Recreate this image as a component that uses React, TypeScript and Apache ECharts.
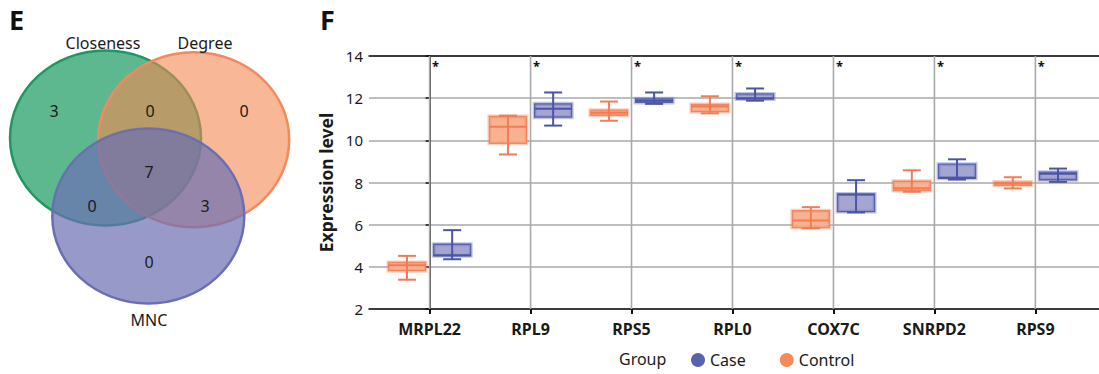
import React, { useEffect, useRef } from "react";
import * as echarts from "echarts";

// ---------- Data ----------
const categories = ["MRPL22", "RPL9", "RPS5", "RPL0", "COX7C", "SNRPD2", "RPS9"];
// each row: [min, q1, median, q3, max]
const controlValues = [
  [3.39, 3.82, 4.07, 4.21, 4.52],
  [9.33, 9.86, 10.64, 11.13, 11.17],
  [10.93, 11.19, 11.31, 11.43, 11.84],
  [11.28, 11.36, 11.6, 11.7, 12.09],
  [5.83, 5.86, 6.2, 6.66, 6.83],
  [7.56, 7.62, 7.73, 8.06, 8.58],
  [7.72, 7.87, 7.96, 8.02, 8.25],
];
const caseValues = [
  [4.36, 4.52, 4.55, 5.07, 5.74],
  [10.7, 11.1, 11.5, 11.73, 12.27],
  [11.73, 11.8, 11.88, 11.97, 12.27],
  [11.88, 11.96, 12.0, 12.2, 12.46],
  [6.58, 6.62, 7.43, 7.45, 8.11],
  [8.14, 8.2, 8.22, 8.87, 9.1],
  [8.03, 8.13, 8.41, 8.49, 8.66],
];
const significance = ["*", "*", "*", "*", "*", "*", "*"];
const yMin = 2;
const yMax = 14;
const yInterval = 2;
const groupNames = ["Case", "Control"];

// Venn
const vennSetNames = ["Closeness", "Degree", "MNC"];
const vennOnlyCloseness = 3;
const vennClosenessDegree = 0;
const vennOnlyDegree = 0;
const vennAll = 7;
const vennClosenessMNC = 0;
const vennDegreeMNC = 3;
const vennOnlyMNC = 0;

const FONT = "'Noto Sans', 'DejaVu Sans', sans-serif";
const TEXT = "#1a1a1a";
const GRID = "#a7a9ac";

const ORANGE = "#f07d55";
const ORANGE_FILL = "#f8b292";
const ORANGE_HALO = "rgba(245,150,110,0.45)";
const BLUE = "#4a55a4";
const BLUE_FILL = "#a4a6d1";
const BLUE_HALO = "rgba(120,125,195,0.45)";

function makeRenderItem(offset: number, stroke: string, fill: string, halo: string) {
  return (params: any, api: any) => {
    const cx = api.coord([api.value(0), yMin])[0] + offset;
    const pMin = api.coord([0, api.value(1)])[1];
    const pQ1 = api.coord([0, api.value(2)])[1];
    const pMed = api.coord([0, api.value(3)])[1];
    const pQ3 = api.coord([0, api.value(4)])[1];
    const pMax = api.coord([0, api.value(5)])[1];
    const bw = 37;
    const cw = 18;
    return {
      type: "group",
      children: [
        {
          type: "rect",
          shape: { x: cx - bw / 2, y: pQ3, width: bw, height: Math.max(pQ1 - pQ3, 0.5) },
          style: { fill, stroke: halo, lineWidth: 4 },
        },
        {
          type: "rect",
          shape: { x: cx - bw / 2, y: pQ3, width: bw, height: Math.max(pQ1 - pQ3, 0.5) },
          style: { fill: "none", stroke, lineWidth: 1.3, opacity: 0.85 },
        },
        {
          type: "line",
          shape: { x1: cx, y1: pMax, x2: cx, y2: pMin },
          style: { stroke, lineWidth: 2 },
        },
        {
          type: "line",
          shape: { x1: cx - cw / 2, y1: pMax, x2: cx + cw / 2, y2: pMax },
          style: { stroke, lineWidth: 2 },
        },
        {
          type: "line",
          shape: { x1: cx - cw / 2, y1: pMin, x2: cx + cw / 2, y2: pMin },
          style: { stroke, lineWidth: 2 },
        },
        {
          type: "line",
          shape: { x1: cx - bw / 2, y1: pMed, x2: cx + bw / 2, y2: pMed },
          style: { stroke, lineWidth: 2 },
        },
      ],
    };
  };
}

function vennText(text: string | number, x: number, y: number, size = 16) {
  return {
    type: "text",
    x,
    y,
    z: 20,
    style: {
      text: String(text),
      fontSize: size,
      fontFamily: FONT,
      fill: TEXT,
      textAlign: "center",
      textVerticalAlign: "middle",
    },
  };
}

export default function App() {
  const ref = useRef<HTMLDivElement>(null);

  useEffect(() => {
    if (!ref.current) return;
    const chart = echarts.init(ref.current, null, { renderer: "svg" });
    const idx = categories.map((_, i) => i);

    const option: any = {
      animation: false,
      textStyle: { fontFamily: FONT },
      grid: { left: 369, top: 56, right: 0, bottom: 65, containLabel: false },
      legend: {
        left: 686,
        top: 347,
        icon: "circle",
        itemWidth: 14,
        itemHeight: 14,
        itemGap: 34,
        textStyle: { fontSize: 16, fontFamily: FONT, color: TEXT },
        data: [
          { name: groupNames[0], itemStyle: { color: "#5a63b0" } },
          { name: groupNames[1], itemStyle: { color: "#f58a5a" } },
        ],
      },
      xAxis: [
        {
          type: "value",
          min: -0.6,
          max: 6.63,
          axisLine: { show: true, lineStyle: { color: "#111", width: 1.5 } },
          axisTick: {
            show: true,
            customValues: idx,
            length: 5,
            lineStyle: { color: "#111", width: 2 },
          },
          axisLabel: {
            customValues: idx,
            formatter: (v: number) => categories[Math.round(v)] ?? "",
            fontSize: 16,
            fontWeight: "bold",
            fontFamily: FONT,
            color: TEXT,
            margin: 12,
          },
          splitLine: { show: false },
        },
        {
          type: "value",
          position: "top",
          min: -0.6,
          max: 6.63,
          axisLine: { show: true, onZero: false, lineStyle: { color: "#111", width: 1.5 } },
          axisTick: { show: false },
          axisLabel: { show: false },
          splitLine: { show: false },
        },
      ],
      yAxis: {
        type: "value",
        min: yMin,
        max: yMax,
        interval: yInterval,
        name: "Expression level",
        nameLocation: "middle",
        nameGap: 23,
        nameTextStyle: { fontSize: 17.5, fontWeight: "bold", fontFamily: FONT, color: TEXT },
        axisLine: { show: true, lineStyle: { color: "#111", width: 1.5 } },
        axisTick: { show: true, length: 4, lineStyle: { color: "#111", width: 1.5 } },
        axisLabel: { fontSize: 15, fontFamily: FONT, color: TEXT, margin: 6 },
        splitLine: { show: true, lineStyle: { color: GRID, width: 1.6 } },
      },
      graphic: [
        // Panel letters
        { type: "text", left: 9, top: 6, style: { text: "E", fontSize: 27, fontWeight: "bold", fontFamily: FONT, fill: "#111" } },
        { type: "text", left: 320, top: 6, style: { text: "F", fontSize: 27, fontWeight: "bold", fontFamily: FONT, fill: "#111" } },
        // Venn ellipses
        {
          type: "ellipse",
          z: 10,
          shape: { cx: 105.5, cy: 138, rx: 95.5, ry: 87.5 },
          style: { fill: "rgba(26,154,95,0.7)", stroke: "#1a9a62", lineWidth: 2.5 },
        },
        {
          type: "ellipse",
          z: 11,
          shape: { cx: 193.7, cy: 139.7, rx: 95.5, ry: 87.5 },
          style: { fill: "rgba(243,135,80,0.6)", stroke: "#f28a5e", lineWidth: 2.5 },
        },
        {
          type: "ellipse",
          z: 12,
          shape: { cx: 148.3, cy: 216, rx: 96, ry: 87.5 },
          style: { fill: "rgba(107,111,178,0.7)", stroke: "#6a6fb4", lineWidth: 2.5 },
        },
        vennText(vennSetNames[0], 103, 43),
        vennText(vennSetNames[1], 205, 43),
        vennText(vennSetNames[2], 149, 320),
        vennText(vennOnlyCloseness, 54, 111),
        vennText(vennClosenessDegree, 150, 111),
        vennText(vennOnlyDegree, 244, 111),
        vennText(vennAll, 149, 172),
        vennText(vennClosenessMNC, 92, 206),
        vennText(vennDegreeMNC, 205, 206),
        vennText(vennOnlyMNC, 149, 262),
        // Legend title
        {
          type: "text",
          left: 619,
          top: 351,
          style: { text: "Group", fontSize: 16, fontFamily: FONT, fill: TEXT },
        },
      ],
      series: [
        {
          name: "grid-v",
          type: "custom",
          xAxisIndex: 0,
          silent: true,
          renderItem: (params: any, api: any) => {
            const top = api.coord([api.value(0), yMax]);
            const bottom = api.coord([api.value(0), yMin]);
            return {
              type: "group",
              children: [
                {
                  type: "line",
                  shape: { x1: top[0], y1: top[1], x2: bottom[0], y2: bottom[1] },
                  style: { stroke: GRID, lineWidth: 1.6 },
                },
                {
                  type: "text",
                  x: top[0] + 6,
                  y: top[1] + 10,
                  style: {
                    text: significance[params.dataIndex],
                    fontSize: 13,
                    fontWeight: "bold",
                    fontFamily: FONT,
                    fill: "#111",
                    textAlign: "center",
                    textVerticalAlign: "middle",
                  },
                },
              ],
            };
          },
          encode: { x: 0, y: 1 },
          data: idx.map((i) => [i, yMax]),
          z: 1,
        },
        {
          name: groupNames[1],
          type: "custom",
          xAxisIndex: 0,
          color: "#f58a5a",
          renderItem: makeRenderItem(-22.6, ORANGE, ORANGE_FILL, ORANGE_HALO),
          encode: { x: 0, y: [1, 2, 3, 4, 5] },
          data: controlValues.map((v, i) => [i, ...v]),
          z: 5,
        },
        {
          name: groupNames[0],
          type: "custom",
          xAxisIndex: 0,
          color: "#5a63b0",
          renderItem: makeRenderItem(22.6, BLUE, BLUE_FILL, BLUE_HALO),
          encode: { x: 0, y: [1, 2, 3, 4, 5] },
          data: caseValues.map((v, i) => [i, ...v]),
          z: 5,
        },
      ],
    };

    chart.setOption(option);
    return () => chart.dispose();
  }, []);

  return (
    <div
      ref={ref}
      style={{ position: "absolute", left: 0, top: 0, width: 1099, height: 374, background: "#fff" }}
    />
  );
}
